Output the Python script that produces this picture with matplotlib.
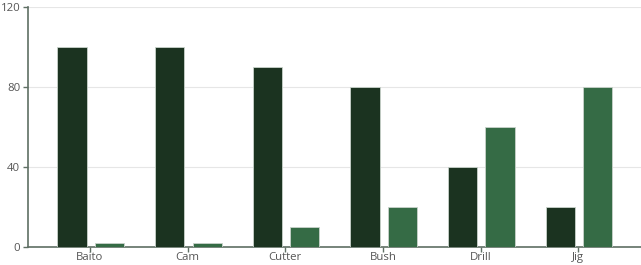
import matplotlib.pyplot as plt
import numpy as np

categories = ["Baito", "Cam", "Cutter", "Bush", "Drill", "Jig"]
series_a = [100, 100, 90, 80, 40, 20]
series_b = [2, 2, 10, 20, 60, 80]
y_ticks = [0, 40, 80, 120]

dark = "#1b3320"
light = "#356b45"

plt.rcParams["font.family"] = ["Open Sans", "DejaVu Sans"]

fig = plt.figure(figsize=(6.41, 2.65), dpi=100)
ax = fig.add_axes([28 / 641, 18 / 265, 613 / 641, 240 / 265])

x = np.arange(len(categories))
width = 0.3
ax.bar(x - 0.185, series_a, width, color=dark, edgecolor="#c9d3cb",
       linewidth=0.6, zorder=3)
ax.bar(x + 0.2, series_b, width, color=light, edgecolor="#c9d3cb",
       linewidth=0.6, zorder=3)

ax.set_xlim(-0.635, 5.643)
ax.set_ylim(0, 120)
ax.set_yticks(y_ticks)
ax.set_xticks(x)
ax.set_xticklabels(categories)
ax.yaxis.grid(True, color="#e6e6e6", linewidth=0.8, zorder=0)

for side in ["top", "right"]:
    ax.spines[side].set_visible(False)
for side in ["left", "bottom"]:
    ax.spines[side].set_color("#5f6f64")
    ax.spines[side].set_linewidth(1.2)

ax.tick_params(axis="both", colors="#5f6f64", labelcolor="#555555",
               labelsize=8.2, length=3.5, width=1)
ax.tick_params(axis="y", pad=2)
ax.tick_params(axis="x", pad=0)

fig.savefig("out.png", dpi=100)
